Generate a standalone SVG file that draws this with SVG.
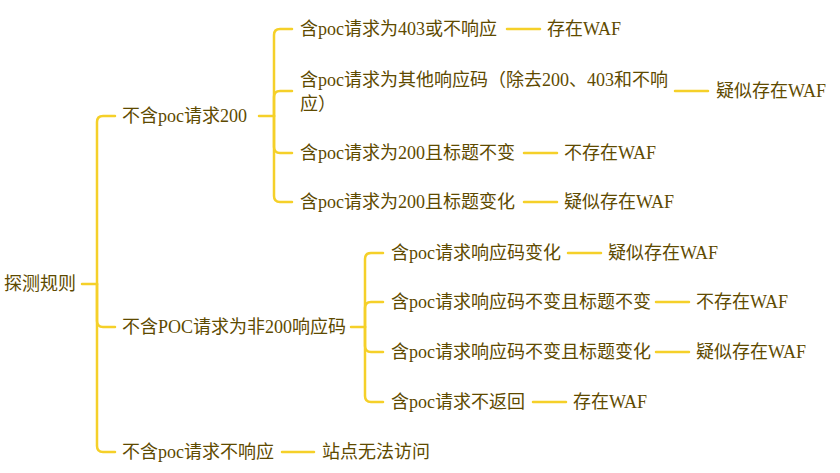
<svg xmlns="http://www.w3.org/2000/svg" width="840" height="473" viewBox="0 0 840 473">
<style>
text{font-family:"Liberation Serif","Noto Sans CJK SC",serif;font-size:18px;fill:#5e4a00}
.c{fill:none;stroke:#f5d029;stroke-width:2.5;stroke-linecap:round}
</style>
<rect width="840" height="473" fill="#fff"/>
<g id="connectors" class="c">
<path d="M82 284H97"/>
<path d="M97 284V122Q97 116 103 116H115"/>
<path d="M97 284V321Q97 327 103 327H115"/>
<path d="M97 284V446Q97 452 103 452H115"/>
<path d="M259 116H274"/>
<path d="M274 116V35Q274 29 280 29H292"/>
<path d="M274 116V97Q274 91 280 91H292"/>
<path d="M274 116V147Q274 153 280 153H292"/>
<path d="M274 116V196Q274 202 280 202H292"/>
<path d="M351 327H365"/>
<path d="M365 327V259Q365 253 371 253H383"/>
<path d="M365 327V308Q365 302 371 302H383"/>
<path d="M365 327V346Q365 352 371 352H383"/>
<path d="M365 327V396Q365 402 371 402H383"/>
<path d="M507 29H540"/>
<path d="M675 91H708"/>
<path d="M524 153H557"/>
<path d="M524 202H557"/>
<path d="M568 253H601"/>
<path d="M656 302H689"/>
<path d="M656 352H689"/>
<path d="M533 402H566"/>
<path d="M282 452H314"/>
</g>
<g id="root"><text x="4" y="290">探测规则</text></g>
<g id="n1"><text x="122" y="122">不含poc请求200</text></g>
<g id="n2"><text x="122" y="333">不含POC请求为非200响应码</text></g>
<g id="n3"><text x="122" y="458">不含poc请求不响应</text></g>
<g id="n1a"><text x="300" y="35">含poc请求为403或不响应</text></g>
<g id="n1b"><text x="300" y="86">含poc请求为其他响应码（除去200、403和不响</text><text x="300" y="110">应）</text></g>
<g id="n1c"><text x="300" y="159">含poc请求为200且标题不变</text></g>
<g id="n1d"><text x="300" y="208">含poc请求为200且标题变化</text></g>
<g id="n2a"><text x="391" y="259">含poc请求响应码变化</text></g>
<g id="n2b"><text x="391" y="308">含poc请求响应码不变且标题不变</text></g>
<g id="n2c"><text x="391" y="358">含poc请求响应码不变且标题变化</text></g>
<g id="n2d"><text x="391" y="408">含poc请求不返回</text></g>
<g id="l1a"><text x="547" y="35">存在WAF</text></g>
<g id="l1b"><text x="716" y="97">疑似存在WAF</text></g>
<g id="l1c"><text x="564" y="159">不存在WAF</text></g>
<g id="l1d"><text x="564" y="208">疑似存在WAF</text></g>
<g id="l2a"><text x="608" y="259">疑似存在WAF</text></g>
<g id="l2b"><text x="696" y="308">不存在WAF</text></g>
<g id="l2c"><text x="696" y="358">疑似存在WAF</text></g>
<g id="l2d"><text x="573" y="408">存在WAF</text></g>
<g id="l3"><text x="322" y="458">站点无法访问</text></g>
</svg>
